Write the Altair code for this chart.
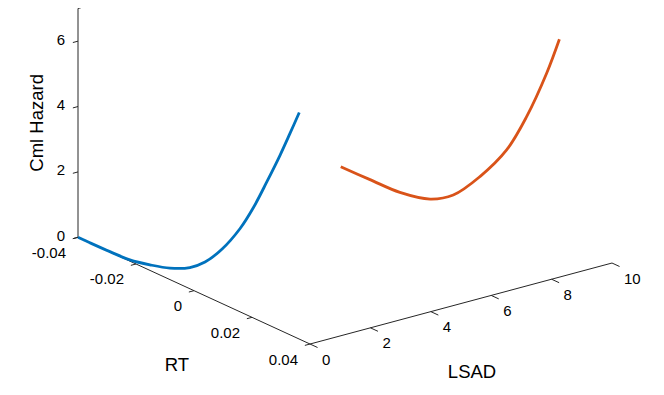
import altair as alt
import numpy as np
import pandas as pd

# ---- data ----
rt_blue = [-0.04, -0.0359, -0.029, -0.0221, -0.0152, -0.0083, -0.0014, 0.0038,
           0.0097, 0.0159, 0.0205, 0.0251, 0.0297, 0.0331, 0.0363]
hz_blue = [0.0, 0.0, 0.01, 0.04, 0.17, 0.35, 0.65, 1.03,
           1.67, 2.55, 3.38, 4.35, 5.36, 6.16, 6.93]
lsad_blue = 0.0

rt_orange = [-0.04, -0.0299, -0.0196, -0.0092, -0.0012, 0.0080, 0.0172,
             0.0241, 0.0310, 0.0354]
hz_orange = [0.0, 0.02, 0.05, 0.27, 0.72, 1.66, 2.85, 4.15, 5.76, 6.98]
lsad_orange = 8.7

rt_ticks = [-0.04, -0.02, 0.0, 0.02, 0.04]
rt_labels = ["-0.04", "-0.02", "0", "0.02", "0.04"]
lsad_ticks = [0, 2, 4, 6, 8, 10]
lsad_labels = ["0", "2", "4", "6", "8", "10"]
z_ticks = [0, 2, 4, 6]
z_labels = ["0", "2", "4", "6"]

rt_lim = [-0.04, 0.04]
lsad_lim = [0, 10]
z_lim = [0, 7]

# ---- orthographic view (screen pixels) ----
ORIGIN = (78.0, 237.3)
RT_VEC = (2900.0, 1334.0)     # per unit RT
LS_VEC = (30.2, -8.1)         # per unit LSAD
Z_VEC = (0.0, -32.69)         # per unit hazard


def proj(rt, ls, z):
    rt = np.asarray(rt, dtype=float) - rt_lim[0]
    ls = np.asarray(ls, dtype=float)
    z = np.asarray(z, dtype=float)
    X = ORIGIN[0] + rt * RT_VEC[0] + ls * LS_VEC[0] + z * Z_VEC[0]
    Y = ORIGIN[1] + rt * RT_VEC[1] + ls * LS_VEC[1] + z * Z_VEC[1]
    return X, Y


xs = alt.Scale(domain=[8, 656], nice=False, zero=False)
ys = alt.Scale(domain=[8, 387], nice=False, zero=False, reverse=True)

# ---- axis lines and ticks ----
segs = []


def seg(p, q):
    x1, y1 = proj(*p)
    x2, y2 = proj(*q)
    segs.append(dict(x=float(x1), y=float(y1), x2=float(x2), y2=float(y2)))


# axis lines
seg((rt_lim[0], 0, z_lim[0]), (rt_lim[0], 0, z_lim[1]))          # z axis
seg((rt_lim[0], 0, 0), (rt_lim[1], 0, 0))                          # RT axis
seg((rt_lim[1], lsad_lim[0], 0), (rt_lim[1], lsad_lim[1], 0))      # LSAD axis
seg((rt_lim[0], 0, z_lim[1]), (rt_lim[0], 0.1, z_lim[1]))          # top end mark
# ticks
for t in z_ticks:
    seg((rt_lim[0], 0, t), (rt_lim[0], -0.17, t))
for t in rt_ticks:
    seg((t, 0, 0), (t, -0.17, 0))
for t in lsad_ticks:
    seg((rt_lim[1], t, 0), (rt_lim[1] + 0.0026, t, 0))

seg_df = pd.DataFrame(segs)
axes_layer = alt.Chart(seg_df).mark_rule(color="#262626", strokeWidth=1).encode(
    x=alt.X("x:Q", scale=xs, axis=None),
    y=alt.Y("y:Q", scale=ys, axis=None),
    x2="x2:Q",
    y2="y2:Q",
)

# ---- curves ----
bx, by = proj(rt_blue, [lsad_blue] * len(rt_blue), hz_blue)
ox, oy = proj(rt_orange, [lsad_orange] * len(rt_orange), hz_orange)
curve_df = pd.concat([
    pd.DataFrame(dict(x=bx, y=by, s="LSAD low", i=range(len(bx)))),
    pd.DataFrame(dict(x=ox, y=oy, s="LSAD high", i=range(len(ox)))),
])
curves = alt.Chart(curve_df).mark_line(strokeWidth=2.8, interpolate="catmull-rom").encode(
    x=alt.X("x:Q", scale=xs, axis=None),
    y=alt.Y("y:Q", scale=ys, axis=None),
    color=alt.Color("s:N", scale=alt.Scale(domain=["LSAD low", "LSAD high"],
                                           range=["#0072BD", "#D95319"]), legend=None),
    detail="s:N",
    order="i:Q",
)

FONT = "Liberation Sans"

# ---- tick labels ----
zx, zy = proj([rt_lim[0]] * len(z_ticks), [0] * len(z_ticks), z_ticks)
z_df = pd.DataFrame(dict(x=zx, y=zy, t=z_labels))
rx, ry = proj(rt_ticks, [0] * len(rt_ticks), [0] * len(rt_ticks))
r_df = pd.DataFrame(dict(x=rx, y=ry, t=rt_labels))
lx, ly = proj([rt_lim[1]] * len(lsad_ticks), lsad_ticks, [0] * len(lsad_ticks))
l_df = pd.DataFrame(dict(x=lx, y=ly, t=lsad_labels))


def labels(df, align, dx, dy):
    return alt.Chart(df).mark_text(align=align, baseline="middle", dx=dx, dy=dy,
                                   font=FONT, fontSize=15, color="#000000").encode(
        x=alt.X("x:Q", scale=xs, axis=None),
        y=alt.Y("y:Q", scale=ys, axis=None),
        text="t:N",
    )


z_lab = labels(z_df, "right", -13, -1.5)
r_lab = labels(r_df, "right", -12, 15.5)
l_lab = labels(l_df, "left", 12, 15.5)

# ---- axis titles ----
tzx, tzy = proj(rt_lim[0], 0, 3.5)
trx, try_ = proj(0.0, 0, 0)
tlx, tly = proj(rt_lim[1], 5, 0)
title_z = alt.Chart(pd.DataFrame(dict(x=[float(tzx)], y=[float(tzy)], t=["Cml Hazard"]))).mark_text(
    angle=270, align="center", baseline="middle", dx=0, dy=-41, font=FONT, fontSize=18.5,
    color="#000000").encode(
    x=alt.X("x:Q", scale=xs, axis=None), y=alt.Y("y:Q", scale=ys, axis=None), text="t:N")
title_r = alt.Chart(pd.DataFrame(dict(x=[float(trx)], y=[float(try_)], t=["RT"]))).mark_text(
    align="center", baseline="middle", dx=-17, dy=74, font=FONT, fontSize=18.5,
    color="#000000").encode(
    x=alt.X("x:Q", scale=xs, axis=None), y=alt.Y("y:Q", scale=ys, axis=None), text="t:N")
title_l = alt.Chart(pd.DataFrame(dict(x=[float(tlx)], y=[float(tly)], t=["LSAD"]))).mark_text(
    align="center", baseline="middle", dx=11, dy=68.5, font=FONT, fontSize=18.5,
    color="#000000").encode(
    x=alt.X("x:Q", scale=xs, axis=None), y=alt.Y("y:Q", scale=ys, axis=None), text="t:N")

chart = alt.layer(axes_layer, curves, z_lab, r_lab, l_lab, title_z, title_r, title_l).properties(
    width=648, height=379, padding=0, autosize="none", background="white"
).configure_view(stroke=None)

chart.save("out.html", embed_options={"renderer": "svg", "actions": False})
